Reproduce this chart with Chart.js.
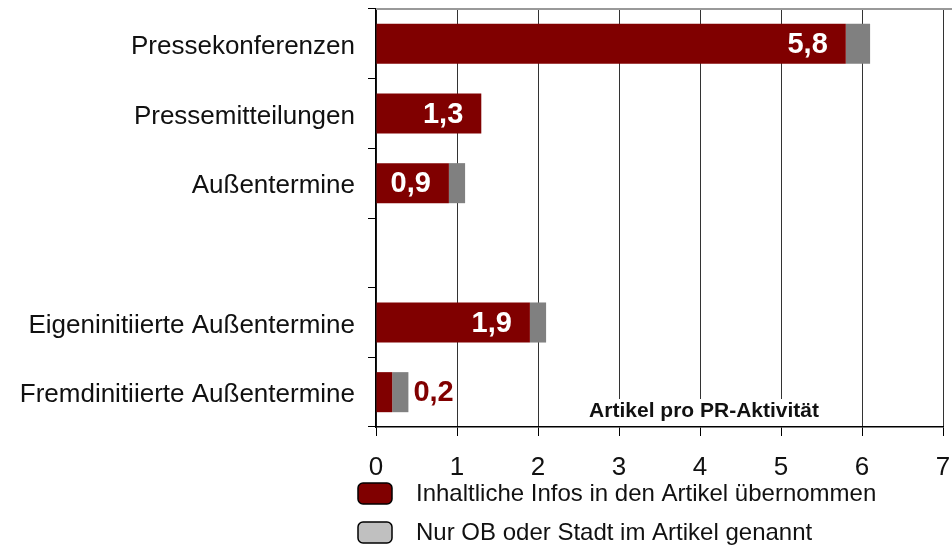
<!DOCTYPE html>
<html>
<head>
<meta charset="utf-8">
<script src="https://cdn.jsdelivr.net/npm/chart.js@4"></script>
<style>
  html, body { margin: 0; padding: 0; background: #fff; }
  #wrap { width: 952px; height: 549px; }
</style>
</head>
<body>
<div id="wrap"><canvas id="chart" width="952" height="549"></canvas></div>
<script>
// Kategorien (leere Zeile als Trenner)
const kategorien = [
  'Pressekonferenzen',
  'Pressemitteilungen',
  'Außentermine',
  '',
  'Eigeninitiierte Außentermine',
  'Fremdinitiierte Außentermine'
];
const inhaltlich = [5.8, 1.3, 0.9, null, 1.9, 0.2];
const nurGenannt = [0.3, 0, 0.2, null, 0.2, 0.2];
const xTicks = [0, 1, 2, 3, 4, 5, 6, 7];
const serienNamen = [
  'Inhaltliche Infos in den Artikel übernommen',
  'Nur OB oder Stadt im Artikel genannt'
];
const achsenTitel = 'Artikel pro PR-Aktivität';

const ROT = '#800000';
const GRAU = '#808080';
const GRAU_LEGENDE = '#c0c0c0';
const FONT = '"Liberation Sans", Arial, sans-serif';

const fmt = v => String(v).replace('.', ',');

// Werte an die Balken schreiben
const wertLabels = {
  id: 'wertLabels',
  afterDatasetsDraw(chart) {
    const ctx = chart.ctx;
    const meta0 = chart.getDatasetMeta(0);
    const meta1 = chart.getDatasetMeta(1);
    ctx.save();
    ctx.font = 'bold 29px ' + FONT;
    ctx.textBaseline = 'middle';
    meta0.data.forEach((bar, i) => {
      const v = inhaltlich[i];
      if (v == null) return;
      if (v >= 0.5) {
        ctx.fillStyle = '#fff';
        ctx.textAlign = 'right';
        ctx.fillText(fmt(v), bar.x - 18, bar.y + 1);
      } else {
        const ende = nurGenannt[i] ? meta1.data[i].x : bar.x;
        ctx.fillStyle = ROT;
        ctx.textAlign = 'left';
        ctx.fillText(fmt(v), ende + 5, bar.y + 1);
      }
    });
    ctx.restore();
  }
};

// Achsentitel mit weissem Hintergrund, obere Linie, Legende
const extras = {
  id: 'extras',
  beforeDatasetsDraw(chart) {
    const { ctx, chartArea } = chart;
    ctx.save();
    const cx = chart.scales.x.getPixelForValue(4.05);
    ctx.fillStyle = '#fff';
    ctx.fillRect(cx - 126, chartArea.bottom - 28, 252, 27);
    ctx.fillStyle = '#111';
    ctx.font = 'bold 21px ' + FONT;
    ctx.textAlign = 'center';
    ctx.textBaseline = 'middle';
    ctx.fillText(achsenTitel, cx, chartArea.bottom - 16);
    ctx.restore();
  },
  afterDraw(chart) {
    const { ctx, chartArea } = chart;
    ctx.save();
    // obere Rahmenlinie bis zum rechten Rand
    ctx.fillStyle = '#999';
    ctx.fillRect(chartArea.left, chartArea.top - 1, chart.width - chartArea.left, 2);
    // eigene Legende
    const farben = [ROT, GRAU_LEGENDE];
    ctx.font = '24px ' + FONT;
    ctx.textBaseline = 'middle';
    ctx.textAlign = 'left';
    serienNamen.forEach((name, i) => {
      const y = 483 + i * 39;
      const x = chartArea.left - 18;
      ctx.beginPath();
      ctx.roundRect(x, y, 34, 21, 5);
      ctx.fillStyle = farben[i];
      ctx.fill();
      ctx.lineWidth = 1.5;
      ctx.strokeStyle = '#000';
      ctx.stroke();
      ctx.fillStyle = '#111';
      ctx.fillText(name, x + 58, y + 11);
    });
    ctx.restore();
  }
};

new Chart(document.getElementById('chart'), {
  type: 'bar',
  data: {
    labels: kategorien,
    datasets: [
      { label: serienNamen[0], data: inhaltlich, backgroundColor: ROT },
      { label: serienNamen[1], data: nurGenannt, backgroundColor: GRAU }
    ]
  },
  options: {
    indexAxis: 'y',
    responsive: false,
    animation: false,
    layout: { padding: { top: 9, right: 9, left: 0, bottom: 0 } },
    datasets: { bar: { barPercentage: 0.575, categoryPercentage: 1 } },
    plugins: {
      legend: { display: false },
      tooltip: { enabled: false }
    },
    scales: {
      x: {
        stacked: true,
        min: 0,
        max: 7,
        afterFit: s => { s.height = 122; s.paddingLeft = 0; s.paddingRight = 0; },
        afterBuildTicks: s => { s.ticks = xTicks.map(v => ({ value: v })); },
        grid: { color: '#333', lineWidth: 1, tickLength: 9, tickColor: '#000' },
        border: { color: '#000', width: 1.5 },
        ticks: { color: '#111', font: { family: FONT, size: 26 }, padding: 16, maxRotation: 0 }
      },
      y: {
        stacked: true,
        afterFit: s => { s.width = 376; s.paddingTop = 0; s.paddingBottom = 0; },
        grid: { drawOnChartArea: false, tickLength: 8, color: '#000', offset: true },
        border: { color: '#000', width: 1.5 },
        ticks: { color: '#111', font: { family: FONT, size: 26 }, padding: 13, labelOffset: 3 }
      }
    }
  },
  plugins: [wertLabels, extras]
});
</script>
</body>
</html>
